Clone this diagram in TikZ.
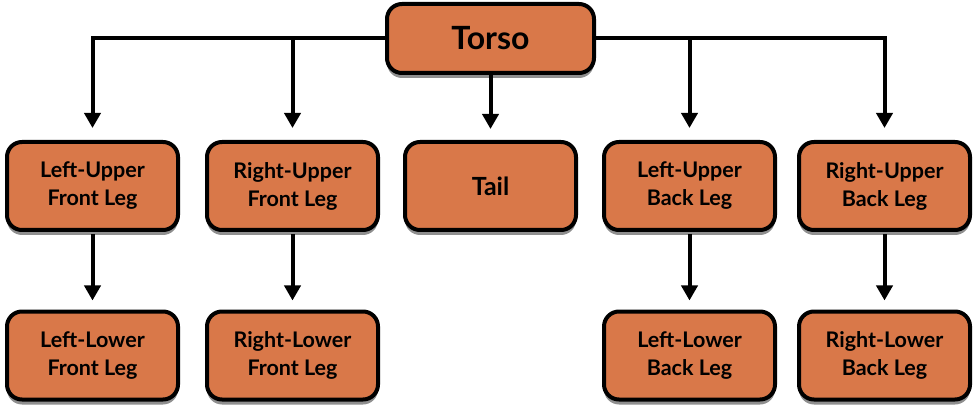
\documentclass[tikz,border=0pt]{standalone}
\usepackage{fontspec}
\setmainfont{Lato}
\usetikzlibrary{arrows.meta,shadows}
\definecolor{boxfill}{HTML}{D97849}
\tikzset{
  box/.style={draw=black, line width=4pt, fill=boxfill, rounded corners=15pt,
    minimum width=171pt, minimum height=88pt, align=center,
    font=\fontsize{21.5}{28}\selectfont\bfseries, inner sep=0pt,
    drop shadow={shadow xshift=0pt, shadow yshift=-5pt, fill=black!55, opacity=0.8}},
  conn/.style={draw=black, line width=4pt, -{Triangle[width=16pt,length=15pt]}},
}
\begin{document}
\begin{tikzpicture}[x=1pt,y=1pt]
\useasboundingbox (0,0) rectangle (976,-411);
\node[box, minimum width=207pt, minimum height=69pt, font=\fontsize{32}{36}\selectfont\bfseries] (torso) at (490.5,-38.5) {Torso};
\node[box] (lufl) at (92.5,-186) {Left-Upper\\Front Leg};
\node[box] (rufl) at (292.5,-186) {Right-Upper\\Front Leg};
\node[box, font=\fontsize{25}{28}\selectfont\bfseries] (tail) at (490.5,-186) {Tail};
\node[box] (lubl) at (689.5,-186) {Left-Upper\\Back Leg};
\node[box] (rubl) at (884.5,-186) {Right-Upper\\Back Leg};
\node[box] (llfl) at (92.5,-355.5) {Left-Lower\\Front Leg};
\node[box] (rlfl) at (292.5,-355.5) {Right-Lower\\Front Leg};
\node[box] (llbl) at (689.5,-355.5) {Left-Lower\\Back Leg};
\node[box] (rlbl) at (884.5,-355.5) {Right-Lower\\Back Leg};
\draw[conn, shorten >=12pt] (torso.west) -| (lufl.north);
\draw[conn, shorten >=12pt] (torso.west) -| (rufl.north);
\draw[conn, shorten >=11pt] (torso.south) -- (tail.north);
\draw[conn, shorten >=12pt] (torso.east) -| (lubl.north);
\draw[conn, shorten >=12pt] (torso.east) -| (rubl.north);
\draw[conn, shorten >=9pt, shorten <=2pt] (lufl.south) -- (llfl.north);
\draw[conn, shorten >=9pt, shorten <=2pt] (rufl.south) -- (rlfl.north);
\draw[conn, shorten >=9pt, shorten <=2pt] (lubl.south) -- (llbl.north);
\draw[conn, shorten >=9pt, shorten <=2pt] (rubl.south) -- (rlbl.north);
\end{tikzpicture}
\end{document}
